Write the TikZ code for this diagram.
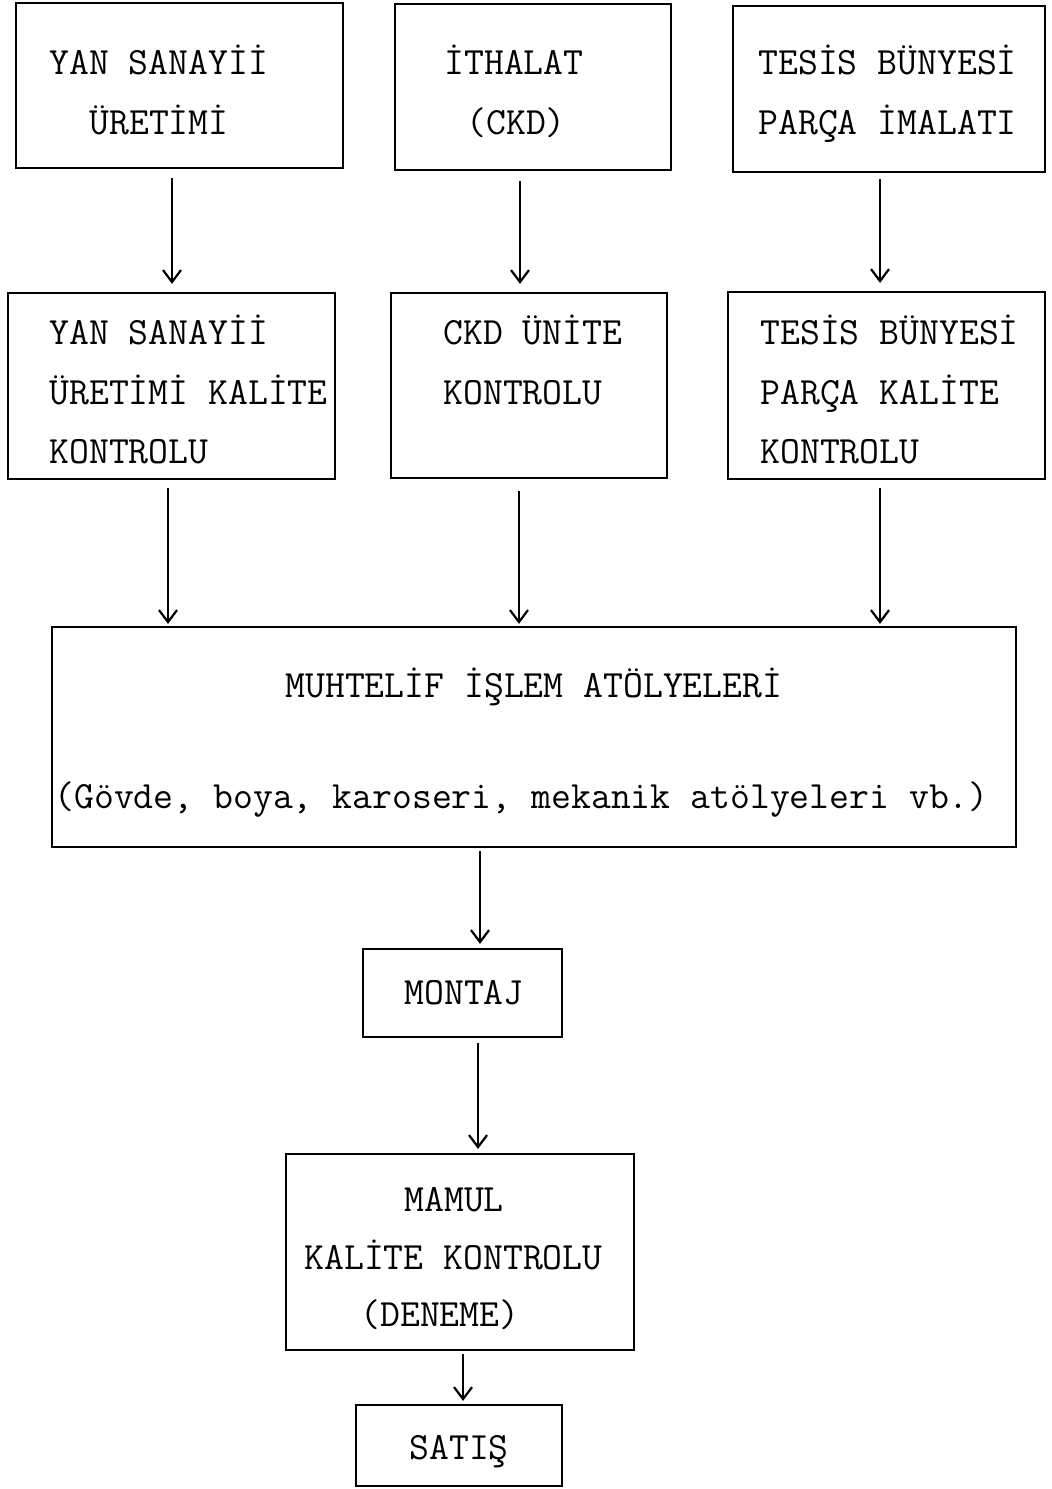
\documentclass[tikz,border=0pt]{standalone}
\usepackage{fontspec}
\usetikzlibrary{arrows.meta,fit}
\newcommand\twfont{\ttfamily\fontsize{19.3}{30}\selectfont}
\begin{document}
\begin{tikzpicture}[x=0.5pt,y=-0.5pt,
  box/.style={draw,line width=1.1pt,inner sep=0pt,rectangle},
  txt/.style={anchor=base west,inner sep=0pt,font=\twfont},
  arr/.style={line width=1.1pt,-{Straight Barb[length=6pt,width=9pt,line width=1.1pt]}}]
\useasboundingbox[fill=white] (0,0) rectangle (1052,1489);
% row 1
\node[box,fit={(16,3) (343,168)}] (t1) {};
\node[box,fit={(395,4) (671,170)}] (t2) {};
\node[box,fit={(733,6) (1045,172)}] (t3) {};
\node[txt] (t1a) at (49,74) {YAN SANAYİİ};
\node[txt] (t1b) at (89,134) {ÜRETİMİ};
\node[txt] (t2a) at (444,74) {İTHALAT};
\node[txt] (t2b) at (466,134) {(CKD)};
\node[txt] (t3a) at (758,74) {TESİS BÜNYESİ};
\node[txt] (t3b) at (758,134) {PARÇA İMALATI};
% row 2
\node[box,fit={(8,293) (335,479)}] (r1) {};
\node[box,fit={(391,293) (667,478)}] (r2) {};
\node[box,fit={(728,292) (1045,479)}] (r3) {};
\node[txt] (r1a) at (49,344) {YAN SANAYİİ};
\node[txt] (r1b) at (49,404) {ÜRETİMİ KALİTE};
\node[txt] (r1c) at (49,463) {KONTROLU};
\node[txt] (r2a) at (443,344) {CKD ÜNİTE};
\node[txt] (r2b) at (443,404) {KONTROLU};
\node[txt] (r3a) at (760,344) {TESİS BÜNYESİ};
\node[txt] (r3b) at (760,404) {PARÇA KALİTE};
\node[txt] (r3c) at (760,463) {KONTROLU};
% big box
\node[box,fit={(52,627) (1016,847)}] (big) {};
\node[txt] (biga) at (285,697) {MUHTELİF İŞLEM ATÖLYELERİ};
\node[txt] (bigb) at (54,808) {(Gövde, boya, karoseri, mekanik atölyeleri vb.)};
% montaj
\node[box,fit={(363,949) (562,1037)}] (mon) {};
\node[txt] (mona) at (404,1004) {MONTAJ};
% mamul
\node[box,fit={(286,1154) (634,1350)}] (mam) {};
\node[txt] (mama) at (404,1211) {MAMUL};
\node[txt] (mamb) at (304,1269) {KALİTE KONTROLU};
\node[txt] (mamc) at (360,1326) {(DENEME)};
% satis
\node[box,fit={(356,1405) (562,1486)}] (sat) {};
\node[txt] (sata) at (409,1459) {SATIŞ};
% arrows
\draw[arr,shorten <=4.5pt,shorten >=4pt] (t1.south -| 172,0) -- (r1.north -| 172,0);
\draw[arr,shorten <=5pt,shorten >=4pt] (t2.south -| 520,0) -- (r2.north -| 520,0);
\draw[arr,shorten <=3pt,shorten >=4pt] (t3.south -| 880,0) -- (r3.north -| 880,0);
\draw[arr,shorten <=4pt,shorten >=1pt] (r1.south -| 168,0) -- (big.north -| 168,0);
\draw[arr,shorten <=6pt,shorten >=1pt] (r2.south -| 519,0) -- (big.north -| 519,0);
\draw[arr,shorten <=4pt,shorten >=1pt] (r3.south -| 880,0) -- (big.north -| 880,0);
\draw[arr,shorten <=1.5pt,shorten >=2pt] (big.south -| 480,0) -- (mon.north -| 480,0);
\draw[arr,shorten <=2.5pt,shorten >=2pt] (mon.south -| 478,0) -- (mam.north -| 478,0);
\draw[arr,shorten <=1.5pt,shorten >=1.5pt] (mam.south -| 463,0) -- (sat.north -| 463,0);
\end{tikzpicture}
\end{document}
